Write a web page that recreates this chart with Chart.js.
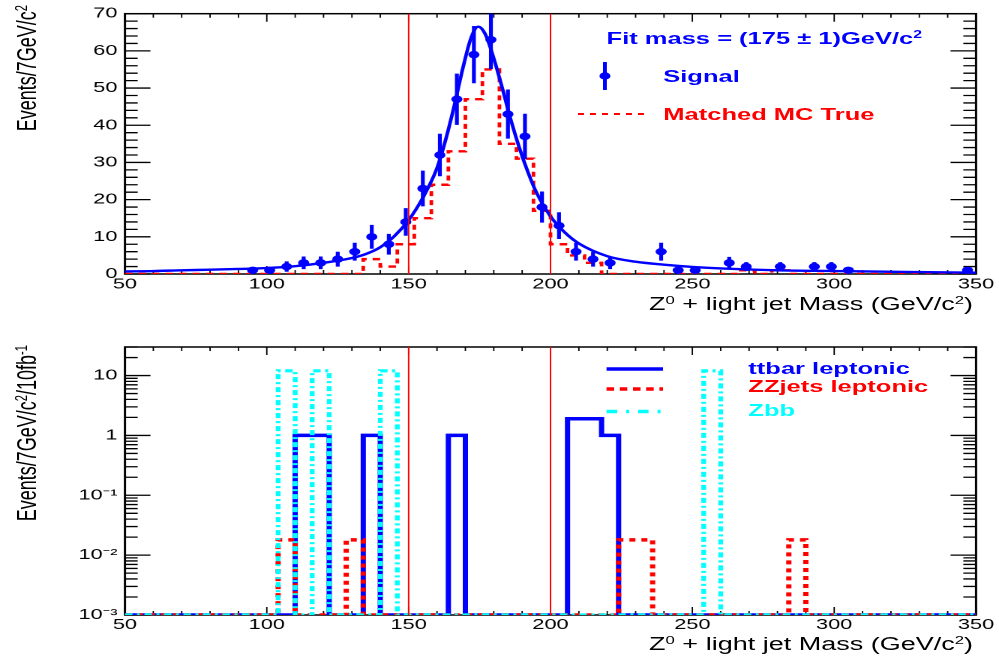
<!DOCTYPE html>
<html>
<head>
<meta charset="utf-8">
<title>Z0 + light jet mass</title>
<script src="https://cdn.jsdelivr.net/npm/chart.js@4.4.1/dist/chart.umd.min.js"></script>
<style>
  html, body { margin: 0; padding: 0; background: #fff; overflow: hidden; }
  /* the plot is stretched ~1.5x sideways, so lay it out at 666px and stretch */
  #page { position: absolute; left: 0; top: 0; width: 666px; height: 662px;
          transform: scaleX(1.5); transform-origin: 0 0;
          font-family: "Liberation Sans", Arial, Helvetica, sans-serif; }
  .pane { position: absolute; left: 0; width: 666px; }
  #topPane { top: 0; height: 330px; }
  #botPane { top: 330px; height: 332px; }
  .lbl { position: absolute; white-space: nowrap; line-height: 20px; height: 20px; }
  .leg { font-weight: bold; font-size: 17px; }
  .axt { font-size: 18px; color: #000; right: 17.3px; }
  .ytitle { position: absolute; width: 260px; text-align: right; white-space: nowrap;
            transform-origin: 0 0; transform: rotate(-90deg);
            font-size: 18px; line-height: 20px; color: #000; }
  sup { font-size: 0.62em; position: relative; top: -0.55em; vertical-align: baseline; line-height: 0; }
  svg.deco { position: absolute; left: 0; top: 0; pointer-events: none; }
</style>
</head>
<body>
<div id="page">
  <div class="pane" id="topPane"><canvas id="topChart"></canvas></div>
  <div class="pane" id="botPane"><canvas id="botChart"></canvas></div>

  <!-- axis titles -->
  <div class="ytitle" style="left:7.9px; top:265px;">Events/7GeV/c<sup>2</sup></div>
  <div class="ytitle" style="left:7.9px; top:605px;">Events/7GeV/c<sup>2</sup>/10fb<sup>-1</sup></div>
  <div class="lbl axt" style="top:294px;">Z<sup>0</sup> + light jet Mass (GeV/c<sup>2</sup>)</div>
  <div class="lbl axt" style="top:634px;">Z<sup>0</sup> + light jet Mass (GeV/c<sup>2</sup>)</div>

  <!-- legends -->
  <div class="lbl leg" style="left:404.4px; top:29px; color:#0000ff;">Fit mass = (175 &plusmn; 1)GeV/c<sup>2</sup></div>
  <div class="lbl leg" style="left:442.2px; top:67px; color:#0000ff;">Signal</div>
  <div class="lbl leg" style="left:442.2px; top:105px; color:#ff0000;">Matched MC True</div>
  <div class="lbl leg" style="left:498.9px; top:359px; color:#0000ff;">ttbar leptonic</div>
  <div class="lbl leg" style="left:498.9px; top:377px; color:#ff0000;">ZZjets leptonic</div>
  <div class="lbl leg" style="left:498.9px; top:401px; color:#00ffff;">Zbb</div>

  <svg class="deco" width="666" height="662">
    <line x1="403.3" y1="62" x2="403.3" y2="90" stroke="#0000ff" stroke-width="2.6"/>
    <circle cx="403.3" cy="76" r="3.7" fill="#0000ff"/>
    <line x1="385.3" y1="114" x2="433.3" y2="114" stroke="#ff0000" stroke-width="2.2" stroke-dasharray="4 4"/>
    <line x1="404.4" y1="369" x2="442" y2="369" stroke="#0000ff" stroke-width="3.5"/>
    <line x1="404.4" y1="389" x2="442" y2="389" stroke="#ff0000" stroke-width="3.5" stroke-dasharray="5 3.8"/>
    <line x1="404.4" y1="411.5" x2="442" y2="411.5" stroke="#00ffff" stroke-width="3.5" stroke-dasharray="7 6 2 6"/>
  </svg>
</div>

<script>
// ---------- axes ----------
const massTicks = [50, 100, 150, 200, 250, 300, 350];
const countTicks = [0, 10, 20, 30, 40, 50, 60, 70];
const logTicks = [0.001, 0.01, 0.1, 1, 10];
const logTickLabels = ['10⁻³', '10⁻²', '10⁻¹', '1', '10'];
const cutMass = [150, 200];   // the two red selection lines
const BIN_W = 6;              // histogram bin width on the mass axis

// ---------- top panel: signal + fit ----------
const sigMass  = [95, 101, 107, 113, 119, 125, 131, 137, 143, 149, 155, 161, 167, 173, 179, 185, 191, 197, 203, 209, 215, 221, 239, 245, 251, 263, 269, 281, 293, 299, 305, 347];
const sigCount = [1, 1, 2, 3, 3, 4, 6, 10, 8, 14, 23, 32, 47, 59, 63, 43, 37, 18, 13, 6, 4, 3, 6, 1, 1, 3, 2, 2, 2, 2, 1, 1];
const sigErr   = [0.5, 0.5, 1.4, 1.7, 1.7, 2, 2.4, 3.2, 2.8, 3.7, 4.8, 5.7, 6.9, 7.7, 7.9, 6.6, 6.1, 4.2, 3.6, 2.4, 2, 1.7, 2.4, 0.5, 0.5, 1.6, 1.2, 1.2, 1.2, 1.2, 0.5, 0.5];

// matched MC truth, non-empty bins only (lower bin edge)
const mcLow   = [134, 140, 146, 152, 158, 164, 170, 176, 182, 188, 194, 200, 206, 212, 266, 278];
const mcCount = [4, 2, 8, 15, 24, 33, 47, 55, 35, 31, 17, 8, 5, 3, 1, 1];

const fitMass  = [50, 60, 70, 80, 90, 100, 110, 120, 130, 135, 140, 145, 150, 155, 160, 163, 166, 169, 172, 174.5, 177, 180, 183, 186, 189, 192, 195, 200, 205, 210, 220, 230, 240, 250, 260, 280, 300, 325, 350];
const fitValue = [0.7, 0.8, 1.0, 1.15, 1.35, 1.6, 2.1, 3.0, 4.3, 5.4, 7.2, 10.2, 14.5, 20.5, 28.5, 36, 45, 55, 63.5, 66.5, 64.5, 58, 50, 41.5, 34, 27.5, 22, 15.5, 11.2, 8.2, 4.8, 3.3, 2.5, 1.9, 1.5, 1.0, 0.8, 0.55, 0.35];

// ---------- bottom panel: backgrounds (non-empty bins only) ----------
const ttbarLow = [110, 116, 134, 164, 206, 212, 218];
const ttbarVal = [1, 1, 1, 1, 1.9, 1.9, 1];
const zzLow    = [104, 128, 224, 230, 284];
const zzVal    = [0.018, 0.018, 0.018, 0.018, 0.018];
const zbbLow   = [104, 116, 140, 254];
const zbbVal   = [12, 12, 12, 12];

const BLUE = '#0000ff', RED = '#ff0000', CYAN = '#00ffff';
const FONT = '"Liberation Sans", Arial, Helvetica, sans-serif';
Chart.defaults.font.family = FONT;

// full 50..350 binning; empty bins sit on the floor
function stepPoints(lows, vals, floor) {
  const pts = [];
  for (let lo = massTicks[0]; lo < massTicks[massTicks.length - 1]; lo += BIN_W) {
    const i = lows.indexOf(lo);
    pts.push({ x: lo, y: i >= 0 ? vals[i] : floor });
  }
  pts.push({ x: massTicks[massTicks.length - 1], y: pts[pts.length - 1].y });
  return pts;
}

function cutPoints(lo, hi) {
  const pts = [];
  cutMass.forEach(m => { pts.push({ x: m, y: lo }, { x: m, y: hi }, { x: m, y: null }); });
  return pts;
}

function errPoints() {
  const pts = [];
  sigMass.forEach((m, i) => {
    pts.push({ x: m, y: sigCount[i] - sigErr[i] }, { x: m, y: sigCount[i] + sigErr[i] }, { x: m, y: null });
  });
  return pts;
}

// minor ticks for the frame
const massMinor = [];
for (let m = 60; m < 350; m += 10) if (m % 50) massMinor.push(m);
const countMinor = [];
for (let c = 2; c < 70; c += 2) if (c % 10) countMinor.push(c);
const logMinor = [];
logTicks.forEach(d => { for (let k = 2; k <= 9; k++) if (d * k <= 30) logMinor.push(d * k); });

// ----------- frame with inward ticks on all four sides -----------
const frameTicks = {
  id: 'frameTicks',
  beforeDatasetsDraw(chart, args, o) {
    const { ctx, chartArea: a, scales: { x, y } } = chart;
    const seg = (x1, y1, x2, y2) => { ctx.moveTo(x1, y1); ctx.lineTo(x2, y2); };
    ctx.save();
    ctx.strokeStyle = '#000';

    ctx.lineWidth = 0.9;
    ctx.beginPath();
    o.xMajor.forEach(v => { const p = x.getPixelForValue(v); seg(p, a.bottom, p, a.bottom - 8); seg(p, a.top, p, a.top + 8); });
    o.xMinor.forEach(v => { const p = x.getPixelForValue(v); seg(p, a.bottom, p, a.bottom - 4); seg(p, a.top, p, a.top + 4); });
    ctx.stroke();

    ctx.lineWidth = 1.3;
    ctx.beginPath();
    o.yMajor.forEach(v => { const p = y.getPixelForValue(v); seg(a.left, p, a.left + 17, p); seg(a.right, p, a.right - 17, p); });
    o.yMinor.forEach(v => { const p = y.getPixelForValue(v); seg(a.left, p, a.left + 8.5, p); seg(a.right, p, a.right - 8.5, p); });
    ctx.stroke();

    ctx.lineWidth = 1.5;
    ctx.strokeRect(a.left, a.top, a.width, a.height);
    ctx.restore();
  }
};

const noGrid = { display: false, drawTicks: false, tickLength: 0 };

function massAxis(height, pad) {
  return {
    type: 'linear', min: 50, max: 350,
    grid: noGrid, border: { display: false },
    ticks: { font: { size: 14.5 }, color: '#000', padding: pad, maxRotation: 0, autoSkip: false },
    afterBuildTicks: s => { s.ticks = massTicks.map(v => ({ value: v })); },
    afterFit: s => { s.height = height; }
  };
}

const baseOptions = {
  animation: false, responsive: true, maintainAspectRatio: false,
  devicePixelRatio: 2, events: [],
};

// ----------- top chart -----------
new Chart(document.getElementById('topChart'), {
  type: 'line',
  plugins: [frameTicks],
  data: {
    datasets: [
      { label: 'cuts', data: cutPoints(0, 70), borderColor: RED, borderWidth: 1, pointRadius: 0, spanGaps: false },
      { label: 'fit', data: fitMass.map((m, i) => ({ x: m, y: fitValue[i] })), borderColor: BLUE, borderWidth: 2.4,
        pointRadius: 0, cubicInterpolationMode: 'monotone' },
      { label: 'Signal', data: sigMass.map((m, i) => ({ x: m, y: sigCount[i] })), showLine: false,
        pointRadius: 3.7, pointBackgroundColor: BLUE, pointBorderWidth: 0 },
      { label: 'errors', data: errPoints(), borderColor: BLUE, borderWidth: 2.6, pointRadius: 0, spanGaps: false },
      { label: 'Matched MC True', data: stepPoints(mcLow, mcCount, 0), stepped: true, borderColor: RED,
        borderWidth: 2.4, borderDash: [5, 4], pointRadius: 0, borderJoinStyle: 'miter' },
    ]
  },
  options: {
    ...baseOptions,
    layout: { padding: { top: 7, right: 15.3, bottom: 0, left: 0 } },
    plugins: {
      legend: { display: false }, tooltip: { enabled: false },
      frameTicks: { xMajor: massTicks, xMinor: massMinor, yMajor: countTicks, yMinor: countMinor }
    },
    scales: {
      x: massAxis(56, 2),
      y: {
        type: 'linear', min: 0, max: 70,
        grid: noGrid, border: { display: false },
        ticks: { font: { size: 14.5 }, color: '#000', padding: 5 },
        afterBuildTicks: s => { s.ticks = countTicks.map(v => ({ value: v })); },
        afterFit: s => { s.width = 83.3; }
      }
    }
  }
});

// ----------- bottom chart -----------
new Chart(document.getElementById('botChart'), {
  type: 'line',
  plugins: [frameTicks],
  data: {
    datasets: [
      { label: 'cuts', data: cutPoints(0.001, 30), borderColor: RED, borderWidth: 1, pointRadius: 0, spanGaps: false },
      { label: 'Zbb', data: stepPoints(zbbLow, zbbVal, 0.001), stepped: true, borderColor: CYAN,
        borderWidth: 3.2, borderDash: [5, 3, 2, 3], pointRadius: 0, borderJoinStyle: 'miter' },
      { label: 'ZZjets leptonic', data: stepPoints(zzLow, zzVal, 0.001), stepped: true, borderColor: RED,
        borderWidth: 3.5, borderDash: [4, 4], pointRadius: 0, borderJoinStyle: 'miter' },
      { label: 'ttbar leptonic', data: stepPoints(ttbarLow, ttbarVal, 0.001), stepped: true, borderColor: BLUE,
        borderWidth: 3.5, pointRadius: 0, borderJoinStyle: 'miter' },
    ]
  },
  options: {
    ...baseOptions,
    layout: { padding: { top: 17, right: 15.3, bottom: 0, left: 0 } },
    plugins: {
      legend: { display: false }, tooltip: { enabled: false },
      frameTicks: { xMajor: massTicks, xMinor: massMinor, yMajor: logTicks, yMinor: logMinor }
    },
    scales: {
      x: massAxis(47, 1.5),
      y: {
        type: 'logarithmic', min: 0.001, max: 30,
        grid: noGrid, border: { display: false },
        ticks: {
          font: { size: 14.5 }, color: '#000', padding: 5,
          callback: v => logTickLabels[logTicks.indexOf(v)]
        },
        afterBuildTicks: s => { s.ticks = logTicks.map(v => ({ value: v })); },
        afterFit: s => { s.width = 83.3; }
      }
    }
  }
});
</script>
</body>
</html>
